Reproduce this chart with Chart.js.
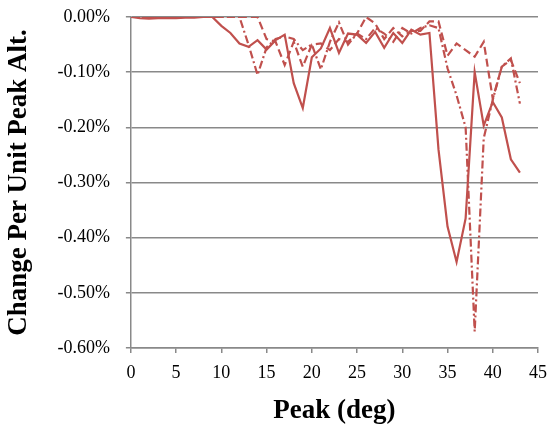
<!DOCTYPE html>
<html>
<head>
<meta charset="utf-8">
<script src="https://cdn.jsdelivr.net/npm/chart.js@4"></script>
<style>
  body { margin: 0; background: #fff; }
  #wrap { width: 548px; height: 427px; }
</style>
</head>
<body>
<div id="wrap"><canvas id="chart" width="548" height="427"></canvas></div>
<script>
// Peak angle (deg) for each sample
const peakDeg = [0,1,2,3,4,5,6,7,8,9,10,11,12,13,14,15,16,17,18,19,20,21,22,23,24,25,26,27,28,29,30,31,32,33,34,35,36,37,38,39,40,41,42,43];

// Change per unit peak alt. (%), three cases
const solidVals = [0,-0.002,-0.003,-0.002,-0.002,-0.002,-0.001,-0.001,0,0,
  -0.016,-0.029,-0.048,-0.054,-0.042,-0.059,-0.042,-0.032,-0.12,-0.165,
  -0.073,-0.057,-0.02,-0.065,-0.03,-0.032,-0.047,-0.027,-0.056,-0.029,
  -0.047,-0.023,-0.032,-0.029,-0.24,-0.38,-0.444,-0.365,-0.10,-0.197,
  -0.154,-0.182,-0.258,-0.282];
const dashVals = [0,0,0,0,0,0,0,0,0,0,
  0,0,0,0,0,-0.04,-0.045,-0.087,-0.045,-0.09,
  -0.05,-0.048,-0.06,-0.04,-0.045,-0.03,0,-0.012,-0.04,-0.02,
  -0.035,-0.025,-0.025,-0.008,-0.008,-0.07,-0.048,-0.06,-0.072,-0.045,
  -0.148,-0.09,-0.078,-0.12];
const dashDotVals = [0,0,0,0,0,0,0,0,0,0,
  0,0,0,-0.05,-0.105,-0.055,-0.04,-0.035,-0.04,-0.06,
  -0.05,-0.095,-0.045,-0.01,-0.05,-0.03,-0.04,-0.02,-0.03,-0.045,
  -0.02,-0.03,-0.02,-0.015,-0.02,-0.093,-0.142,-0.20,-0.57,-0.22,
  -0.15,-0.09,-0.075,-0.157];

const red = '#C0504D';
const gray = '#898989';
const serif = "'Liberation Serif', 'Times New Roman', serif";

function pts(vals) {
  return vals.map((v, i) => ({ x: peakDeg[i], y: v }));
}

function line(vals, dash) {
  return {
    data: pts(vals),
    borderColor: red,
    borderWidth: 2.2,
    borderDash: dash,
    pointRadius: 0,
    tension: 0,
    fill: false
  };
}

const ctx = document.getElementById('chart').getContext('2d');
const chart = new Chart(ctx, {
  type: 'line',
  data: {
    datasets: [
      line(solidVals, []),
      line(dashVals, [8, 4]),
      line(dashDotVals, [8, 3, 2, 3])
    ]
  },
  options: {
    responsive: false,
    animation: false,
    layout: { padding: { top: 17, right: 10, left: 3, bottom: 0 } },
    plugins: { legend: { display: false }, tooltip: { enabled: false } },
    scales: {
      x: {
        type: 'linear',
        min: 0,
        max: 45,
        // let the layout padding decide the right edge
        afterFit: s => { s.paddingLeft = 0; s.paddingRight = 0; },
        ticks: { stepSize: 5, color: '#000', font: { family: serif, size: 18 }, padding: 9, maxRotation: 0 },
        grid: { drawOnChartArea: false, drawTicks: true, tickLength: 5, color: gray, lineWidth: 1.5 },
        border: { color: gray, width: 1.5 },
        title: { display: true, text: 'Peak (deg)', color: '#000', font: { family: serif, size: 27, weight: 'bold' }, padding: { top: 2, bottom: 0 } }
      },
      y: {
        min: -0.6,
        max: 0,
        afterFit: s => { s.paddingTop = 0; s.paddingBottom = 0; },
        ticks: {
          stepSize: 0.1,
          color: '#000',
          font: { family: serif, size: 18 },
          padding: 16,
          callback: v => v.toFixed(2) + '%'
        },
        grid: { color: gray, lineWidth: 1.5, tickLength: 5 },
        border: { color: gray, width: 1.5 },
        title: { display: true, text: 'Change Per Unit Peak Alt.', color: '#000', font: { family: serif, size: 27, weight: 'bold' }, padding: { top: 0, bottom: 6 } }
      }
    }
  }
});
</script>
</body>
</html>
